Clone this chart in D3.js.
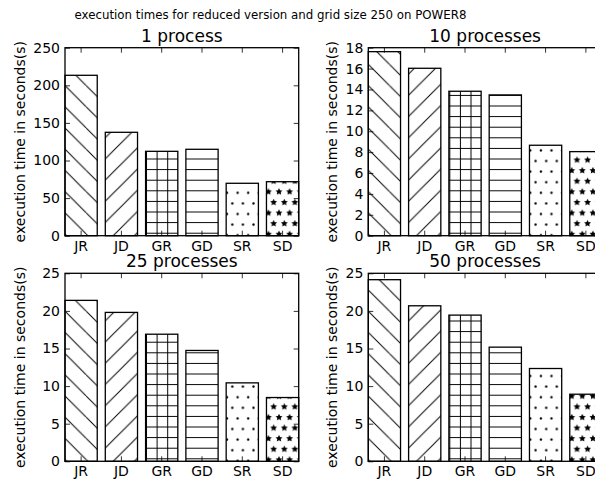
<!DOCTYPE html>
<html>
<head>
<meta charset="utf-8">
<script src="https://cdn.jsdelivr.net/npm/d3@7"></script>
<style>
  body { margin: 0; background: #fff; }
  text { font-family: "DejaVu Sans", sans-serif; fill: #000; }
</style>
</head>
<body>
<script>
// data
const categories = ["JR", "JD", "GR", "GD", "SR", "SD"];
const hatchNames = ["back", "fwd", "grid", "hline", "dots", "stars"];
const panelTitles = ["1 process", "10 processes", "25 processes", "50 processes"];
const yMaxes = [250, 18, 25, 25];
const yTickSteps = [50, 2, 5, 5];
const times1 = [213.3, 137.5, 112.2, 114.9, 69.7, 71.8];
const times10 = [17.62, 16.03, 13.83, 13.48, 8.66, 8.05];
const times25 = [21.4, 19.8, 16.9, 14.74, 10.43, 8.48];
const times50 = [24.15, 20.68, 19.44, 15.18, 12.34, 8.92];
const panelValues = [times1, times10, times25, times50];

const W = 595, H = 482;
const svg = d3.select("body").append("svg")
    .attr("width", W)
    .attr("height", H);

svg.append("rect").attr("width", W).attr("height", H).attr("fill", "#fff");

// hatch patterns, tiled in page space like matplotlib does
const S = 10.6, D = 2 * S;
const defs = svg.append("defs");

function makePattern(id, w, h, ox, oy) {
    return defs.append("pattern")
        .attr("id", id)
        .attr("patternUnits", "userSpaceOnUse")
        .attr("x", ox).attr("y", oy)
        .attr("width", w).attr("height", h);
}
const hatchStroke = p => p.attr("fill", "none").attr("stroke", "#000").attr("stroke-width", 1);

hatchStroke(makePattern("back", D, D, 0, 16.7).append("path")
    .attr("d", `M${-D},0L0,${D}M0,0L${D},${D}M0,${-D}L${D},0`));
hatchStroke(makePattern("fwd", D, D, 0, 3).append("path")
    .attr("d", `M${-D / 2},${D / 2}L${D / 2},${-D / 2}M0,${D}L${D},0M${D / 2},${1.5 * D}L${1.5 * D},${D / 2}`));
hatchStroke(makePattern("grid", S, S, 2, 0).append("path")
    .attr("d", `M0,${S / 2}H${S}M${S / 2},0V${S}`));
hatchStroke(makePattern("hline", S, S, 0, 0).append("path")
    .attr("d", `M0,${S / 2}H${S}`));

const dotSpots = [[S / 2, S / 2], [0, 1.5 * S], [S, 1.5 * S]];
const dotPat = makePattern("dots", S, 2 * S, 3, 2);
dotPat.selectAll("circle").data(dotSpots).join("circle")
    .attr("cx", d => d[0]).attr("cy", d => d[1]).attr("r", 1.2).attr("fill", "#000");

function starPath(cx, cy, r) {
    const pts = d3.range(10).map(k => {
        const a = -Math.PI / 2 + k * Math.PI / 5;
        const rr = k % 2 === 0 ? r : r * 0.5;
        return [cx + rr * Math.cos(a), cy + rr * Math.sin(a)];
    });
    return "M" + pts.map(p => p.join(",")).join("L") + "Z";
}
const starPat = makePattern("stars", S, 2 * S, 2, 1);
starPat.selectAll("path").data(dotSpots).join("path")
    .attr("d", d => starPath(d[0], d[1], 3.6)).attr("fill", "#000");

// suptitle
svg.append("text")
    .attr("x", 270.5).attr("y", 18.5)
    .attr("text-anchor", "middle")
    .style("font-size", "11.8px")
    .text("execution times for reduced version and grid size 250 on POWER8");

const panelLeft = [65, 368.3, 65, 368.3];
const panelTop = [47.7, 47.7, 273.3, 273.3];
const labelX = [25, 336.7, 25, 336.7];
const pw = 233.7, ph = 188;

panelValues.forEach((values, p) => {
    const g = svg.append("g")
        .attr("transform", `translate(${panelLeft[p]},${panelTop[p]})`);

    const x = d3.scaleBand()
        .domain(categories)
        .range([0, pw])
        .paddingInner(0.2)
        .paddingOuter(0)
        .align(0);

    const y = d3.scaleLinear()
        .domain([0, yMaxes[p]])
        .range([ph, 0]);

    const yTicks = d3.range(0, yMaxes[p] + 1e-9, yTickSteps[p]);

    const rows = categories.map((c, i) => ({ cat: c, v: values[i], hatch: hatchNames[i] }));

    const bars = g.selectAll(".bar")
        .data(rows)
        .join("g")
        .attr("class", "bar");

    bars.append("rect")
        .attr("x", d => x(d.cat))
        .attr("y", d => y(d.v))
        .attr("width", x.bandwidth())
        .attr("height", d => y(0) - y(d.v))
        .attr("fill", "#fff");

    bars.append("rect")
        .attr("x", d => x(d.cat))
        .attr("y", d => y(d.v))
        .attr("width", x.bandwidth())
        .attr("height", d => y(0) - y(d.v))
        .attr("fill", d => `url(#${d.hatch})`)
        .attr("stroke", "#000")
        .attr("stroke-width", 1.3);

    // inward ticks on all four sides
    g.append("g")
        .attr("transform", `translate(0,${ph})`)
        .call(d3.axisBottom(x).tickSizeInner(-5).tickSizeOuter(0).tickPadding(5));
    g.append("g")
        .call(d3.axisTop(x).tickSizeInner(-5).tickSizeOuter(0).tickFormat(""));
    g.append("g")
        .call(d3.axisLeft(y).tickValues(yTicks).tickSizeInner(-5).tickSizeOuter(0).tickPadding(5));
    g.append("g")
        .attr("transform", `translate(${pw},0)`)
        .call(d3.axisRight(y).tickValues(yTicks).tickSizeInner(-5).tickSizeOuter(0).tickFormat(""));

    g.selectAll(".domain").remove();
    g.selectAll(".tick line").attr("stroke", "#000").attr("stroke-width", 0.8);
    g.selectAll(".tick text")
        .style("font-size", "14px")
        .style("font-family", "DejaVu Sans")
        .attr("fill", "#000");

    g.append("rect")
        .attr("width", pw).attr("height", ph)
        .attr("fill", "none")
        .attr("stroke", "#000")
        .attr("stroke-width", 1.3);

    g.append("text")
        .attr("x", pw / 2).attr("y", -6)
        .attr("text-anchor", "middle")
        .style("font-size", "17px")
        .text(panelTitles[p]);

    g.append("text")
        .attr("transform", `translate(${labelX[p] - panelLeft[p]},${ph / 2}) rotate(-90)`)
        .attr("text-anchor", "middle")
        .style("font-size", "14px")
        .text("execution time in seconds(s)");
});
</script>
</body>
</html>
